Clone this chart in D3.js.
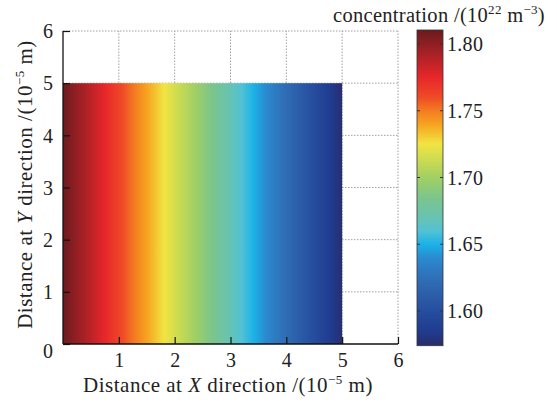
<!DOCTYPE html>
<html><head><meta charset="utf-8">
<script src="https://cdn.jsdelivr.net/npm/d3@7"></script>
<style>
html,body{margin:0;padding:0;background:#fff;}
svg{display:block;}
text{font-family:"Liberation Serif","Times New Roman",serif;fill:#222;}
</style></head>
<body>
<svg id="chart" width="557" height="402"></svg>
<script>
// ---- data ----
const xTicks = [1, 2, 3, 4, 5, 6];
const yTicks = [0, 1, 2, 3, 4, 5, 6];
const xPositions = [0, 0.5, 1, 1.5, 2, 2.5, 3, 3.5, 4, 4.5, 5];
const concentration = [1.810, 1.787, 1.763, 1.740, 1.716, 1.693, 1.669, 1.646, 1.622, 1.599, 1.575];
const fieldHeight = [0, 5];
const cbTicks = [1.60, 1.65, 1.70, 1.75, 1.80];
const cbDomain = [1.574, 1.8105];
const cmapValues = [1.574, 1.585, 1.60, 1.61, 1.625, 1.64, 1.65, 1.66, 1.67, 1.685, 1.70, 1.725, 1.74, 1.75, 1.76, 1.775, 1.79, 1.8105];
const cmapColors = ["#2a2c6a", "#1f3c90", "#264d9f", "#2b5ba7", "#2f70b8", "#2a8bd0", "#1bb2e8", "#52c2d4", "#67c3b2", "#7cc58b", "#a2d063", "#f1e542", "#f6a220", "#f47c20", "#ee4b26", "#e8262a", "#b12227", "#6a1b1f"];

const svg = d3.select("#chart");
const x = d3.scaleLinear().domain([0, 6]).range([63, 398]);
const y = d3.scaleLinear().domain([0, 6]).range([344, 31]);
const color = d3.scaleLinear().domain(cmapValues).range(cmapColors).interpolate(d3.interpolateRgb);
const cb = d3.scaleLinear().domain(cbDomain).range([345.7, 30]);

const defs = svg.append("defs");
const fg = defs.append("linearGradient").attr("id", "fieldGrad")
  .attr("gradientUnits", "userSpaceOnUse")
  .attr("x1", x(xPositions[0])).attr("x2", x(xPositions[xPositions.length - 1]))
  .attr("y1", 0).attr("y2", 0);
const xs0 = xPositions[0], xs1 = xPositions[xPositions.length - 1];
const interpC = d3.scaleLinear().domain(xPositions).range(concentration);
d3.range(0, 201).forEach(i => {
  const xv = xs0 + (xs1 - xs0) * i / 200;
  fg.append("stop").attr("offset", (i / 200 * 100) + "%").attr("stop-color", color(interpC(xv)));
});
const cg = defs.append("linearGradient").attr("id", "cbGrad")
  .attr("gradientUnits", "userSpaceOnUse")
  .attr("x1", 0).attr("x2", 0).attr("y1", cb(cbDomain[0])).attr("y2", cb(cbDomain[1]));
d3.range(0, 201).forEach(i => {
  const v = cbDomain[0] + (cbDomain[1] - cbDomain[0]) * i / 200;
  cg.append("stop").attr("offset", (i / 200 * 100) + "%").attr("stop-color", color(v));
});

// grid (dotted)
const grid = svg.append("g").attr("stroke", "#a0a0a0").attr("stroke-width", 1).attr("stroke-dasharray", "1.5,1.5");
grid.selectAll("line.gx").data(xTicks).join("line")
  .attr("x1", d => x(d)).attr("x2", d => x(d)).attr("y1", y(0)).attr("y2", y(6));
grid.selectAll("line.gy").data(yTicks.filter(d => d > 0)).join("line")
  .attr("x1", x(0)).attr("x2", x(6)).attr("y1", d => y(d)).attr("y2", d => y(d));

// field
svg.append("rect")
  .attr("x", x(xPositions[0])).attr("y", y(fieldHeight[1]))
  .attr("width", x(xPositions[xPositions.length - 1]) - x(xPositions[0]))
  .attr("height", y(fieldHeight[0]) - y(fieldHeight[1]))
  .attr("fill", "url(#fieldGrad)");

// axes
const ax = svg.append("g").attr("transform", `translate(0,${y(0)})`)
  .call(d3.axisBottom(x).tickValues(xTicks).tickSizeInner(-7).tickSizeOuter(0).tickPadding(13).tickFormat(d3.format("d")));
ax.select(".domain").attr("stroke", "#111").attr("stroke-width", 1.3).attr("d", `M${x(0)},0H${x(6)}`);
ax.selectAll(".tick line").attr("stroke", "#111").attr("stroke-width", 1.2);
ax.selectAll(".tick text").attr("font-size", 20).attr("fill", "#222").attr("y", 23).attr("dy", 0).attr("font-family", "Liberation Serif");

const ay = svg.append("g").attr("transform", `translate(${x(0)},0)`)
  .call(d3.axisLeft(y).tickValues(yTicks).tickSizeInner(-7).tickSizeOuter(0).tickPadding(10).tickFormat(d3.format("d")));
ay.select(".domain").attr("stroke", "#111").attr("stroke-width", 1.3).attr("d", `M0,${y(0)}V${y(6)}`);
ay.selectAll(".tick line").attr("stroke", "#111").attr("stroke-width", 1.2);
ay.selectAll(".tick text").attr("font-size", 20).attr("fill", "#222").attr("dy", "0.34em").attr("font-family", "Liberation Serif");
ay.selectAll(".tick").filter(d => d === 0).select("text").attr("dy", "0.68em");

// axis titles
const xt = svg.append("text").attr("x", 228).attr("y", 392).attr("text-anchor", "middle")
  .attr("font-size", 21).attr("letter-spacing", 0.5);
xt.append("tspan").text("Distance at ");
xt.append("tspan").attr("font-style", "italic").text("X");
xt.append("tspan").text(" direction /(10");
xt.append("tspan").attr("font-size", 13).attr("dy", -8).text("−5");
xt.append("tspan").attr("dy", 8).text(" m)");

const yt = svg.append("text").attr("transform", `translate(32,${(y(0) + y(6)) / 2 - 3}) rotate(-90)`)
  .attr("text-anchor", "middle").attr("font-size", 21).attr("letter-spacing", 0.5);
yt.append("tspan").text("Distance at ");
yt.append("tspan").attr("font-style", "italic").text("Y");
yt.append("tspan").text(" direction /(10");
yt.append("tspan").attr("font-size", 13).attr("dy", -8).text("−5");
yt.append("tspan").attr("dy", 8).text(" m)");

// colorbar
const cbx0 = 417, cbw = 26;
svg.append("rect").attr("x", cbx0).attr("y", cb(cbDomain[1])).attr("width", cbw)
  .attr("height", cb(cbDomain[0]) - cb(cbDomain[1])).attr("fill", "url(#cbGrad)")
  .attr("stroke", "#333").attr("stroke-width", 0.8);
const cbt = svg.append("g");
cbt.selectAll("line.l").data(cbTicks).join("line")
  .attr("x1", cbx0).attr("x2", cbx0 + 3).attr("y1", d => cb(d)).attr("y2", d => cb(d)).attr("stroke", "#333");
cbt.selectAll("line.r").data(cbTicks).join("line")
  .attr("x1", cbx0 + cbw - 3).attr("x2", cbx0 + cbw).attr("y1", d => cb(d)).attr("y2", d => cb(d)).attr("stroke", "#333");
cbt.selectAll("text").data(cbTicks).join("text")
  .attr("x", cbx0 + cbw + 4).attr("y", d => cb(d)).attr("dy", "0.35em")
  .attr("font-size", 20).attr("letter-spacing", 0.3).text(d => d3.format(".2f")(d));

const ct = svg.append("text").attr("x", 333).attr("y", 22).attr("font-size", 20.5).attr("letter-spacing", 0.3);
ct.append("tspan").text("concentration /(10");
ct.append("tspan").attr("font-size", 13).attr("dy", -8).text("22");
ct.append("tspan").attr("dy", 8).text(" m");
ct.append("tspan").attr("font-size", 13).attr("dy", -8).text("−3");
ct.append("tspan").attr("dy", 8).text(")");
</script>
</body></html>
